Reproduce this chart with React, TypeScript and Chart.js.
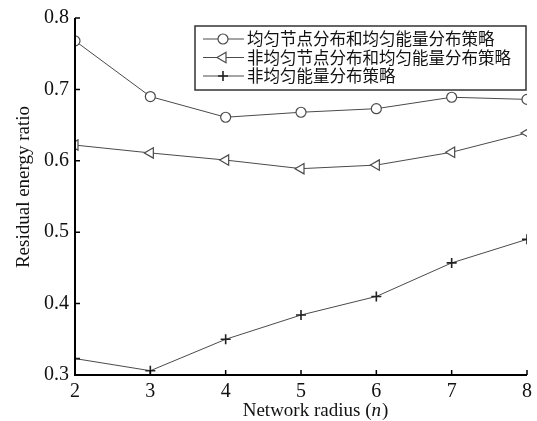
import React, { useEffect, useRef } from "react";
import { Chart, registerables } from "chart.js";

Chart.register(...registerables);

const xValues = [2, 3, 4, 5, 6, 7, 8];
const uniformBoth = [0.768, 0.690, 0.661, 0.668, 0.673, 0.689, 0.686];
const nonUniformBoth = [0.622, 0.611, 0.601, 0.589, 0.594, 0.612, 0.639];
const nonUniformEnergy = [0.323, 0.306, 0.350, 0.384, 0.410, 0.457, 0.490];
const seriesLabels = [
  "均匀节点分布和均匀能量分布策略",
  "非均匀节点分布和均匀能量分布策略",
  "非均匀能量分布策略",
];
const yTicks = [0.3, 0.4, 0.5, 0.6, 0.7, 0.8];
const xTitleMain = "Network radius (";
const xTitleVar = "n";
const xTitleEnd = ")";
const yTitle = "Residual energy ratio";

const LINE = "#4a4a4a";
const SERIF = "'Liberation Serif', 'DejaVu Serif', serif";
const CJK = "'Noto Sans CJK SC', sans-serif";

function drawMarker(ctx: any, style: string, rot: number, x: number, y: number, r: number) {
  ctx.save();
  ctx.strokeStyle = LINE;
  ctx.fillStyle = "#fff";
  ctx.lineWidth = 1.2;
  ctx.translate(x, y);
  ctx.rotate((rot * Math.PI) / 180);
  ctx.beginPath();
  if (style === "circle") {
    ctx.arc(0, 0, r, 0, Math.PI * 2);
    ctx.fill();
    ctx.stroke();
  } else if (style === "triangle") {
    ctx.moveTo(0, -r);
    ctx.lineTo(r * 0.87, r * 0.5);
    ctx.lineTo(-r * 0.87, r * 0.5);
    ctx.closePath();
    ctx.fill();
    ctx.stroke();
  } else {
    ctx.lineWidth = 1.6;
    ctx.strokeStyle = "#222";
    ctx.moveTo(-r, 0);
    ctx.lineTo(r, 0);
    ctx.moveTo(0, -r);
    ctx.lineTo(0, r);
    ctx.stroke();
  }
  ctx.restore();
}

const axisPlugin = {
  id: "customAxes",
  afterDraw(chart: any) {
    const { ctx, chartArea, scales } = chart;
    const xs = scales.x;
    const ys = scales.y;
    ctx.save();
    ctx.strokeStyle = "#000";
    ctx.lineWidth = 2;
    ctx.beginPath();
    ctx.moveTo(chartArea.left, chartArea.top);
    ctx.lineTo(chartArea.left, chartArea.bottom);
    ctx.lineTo(chartArea.right, chartArea.bottom);
    ctx.stroke();
    ctx.lineWidth = 1.5;
    ctx.beginPath();
    for (const v of xValues) {
      const px = xs.getPixelForValue(v);
      ctx.moveTo(px, chartArea.bottom);
      ctx.lineTo(px, chartArea.bottom - 5);
    }
    for (const v of yTicks) {
      const py = ys.getPixelForValue(v);
      ctx.moveTo(chartArea.left, py);
      ctx.lineTo(chartArea.left + 5, py);
    }
    ctx.stroke();

    // axis titles
    ctx.fillStyle = "#111";
    ctx.textBaseline = "middle";
    const f1 = `19px ${SERIF}`;
    const f2 = `italic 19px ${SERIF}`;
    ctx.font = f1;
    const w1 = ctx.measureText(xTitleMain).width;
    const w3 = ctx.measureText(xTitleEnd).width;
    ctx.font = f2;
    const w2 = ctx.measureText(xTitleVar).width;
    const total = w1 + w2 + w3;
    let tx = 315 - total / 2;
    const ty = 411;
    ctx.textAlign = "left";
    ctx.font = f1;
    ctx.fillText(xTitleMain, tx, ty);
    ctx.font = f2;
    ctx.fillText(xTitleVar, tx + w1, ty);
    ctx.font = f1;
    ctx.fillText(xTitleEnd, tx + w1 + w2 + 1, ty);

    ctx.save();
    ctx.translate(24, 187);
    ctx.rotate(-Math.PI / 2);
    ctx.textAlign = "center";
    ctx.font = f1;
    ctx.fillText(yTitle, 0, 0);
    ctx.restore();

    // legend
    const bx = 195, by = 26, bw = 331, bh = 64;
    ctx.fillStyle = "#fff";
    ctx.fillRect(bx, by, bw, bh);
    ctx.strokeStyle = "#333";
    ctx.lineWidth = 1.5;
    ctx.strokeRect(bx, by, bw, bh);
    ctx.font = `16.5px ${CJK}`;
    ctx.textBaseline = "middle";
    ctx.textAlign = "left";
    chart.data.datasets.forEach((ds: any, i: number) => {
      const cy = by + 13 + i * 18.5;
      ctx.strokeStyle = LINE;
      ctx.lineWidth = 1;
      ctx.beginPath();
      ctx.moveTo(bx + 8, cy);
      ctx.lineTo(bx + 49, cy);
      ctx.stroke();
      drawMarker(ctx, ds.pointStyle, ds.pointRotation || 0, bx + 28, cy, ds.pointRadius);
      ctx.fillStyle = "#111";
      ctx.fillText(ds.label, bx + 52, cy);
    });
    ctx.restore();
  },
};

export default function App() {
  const ref = useRef<HTMLCanvasElement>(null);
  useEffect(() => {
    document.body.style.margin = "0";
    const mk = (vals: number[]) => xValues.map((x, i) => ({ x, y: vals[i] }));
    const chart = new Chart(ref.current!, {
      type: "line",
      data: {
        datasets: [
          {
            label: seriesLabels[0],
            data: mk(uniformBoth),
            borderColor: LINE,
            borderWidth: 1,
            pointStyle: "circle",
            pointRadius: 5,
            pointBackgroundColor: "#fff",
            pointBorderColor: LINE,
            pointBorderWidth: 1.2,
          },
          {
            label: seriesLabels[1],
            data: mk(nonUniformBoth),
            borderColor: LINE,
            borderWidth: 1,
            pointStyle: "triangle",
            pointRotation: 270,
            pointRadius: 6,
            pointBackgroundColor: "#fff",
            pointBorderColor: LINE,
            pointBorderWidth: 1.2,
          },
          {
            label: seriesLabels[2],
            data: mk(nonUniformEnergy),
            borderColor: LINE,
            borderWidth: 1,
            pointStyle: "cross",
            pointRadius: 5,
            pointBorderColor: "#222",
            pointBorderWidth: 1.6,
          },
        ] as any,
      },
      options: {
        animation: false,
        responsive: false,
        layout: { padding: { top: 10, right: 7, left: 0, bottom: 0 } },
        plugins: { legend: { display: false }, tooltip: { enabled: false } },
        scales: {
          x: {
            type: "linear",
            min: 2,
            max: 8,
            border: { display: false },
            grid: { display: false, drawTicks: false },
            ticks: {
              stepSize: 1,
              color: "#111",
              padding: 5,
              font: { family: SERIF, size: 20 },
            },
            afterFit: (s: any) => { s.height = 46; },
          },
          y: {
            min: 0.3,
            max: 0.8,
            border: { display: false },
            grid: { display: false, drawTicks: false },
            afterBuildTicks: (s: any) => { s.ticks = yTicks.map((v) => ({ value: v })); },
            ticks: {
              color: "#111",
              padding: 6,
              font: { family: SERIF, size: 20 },
              callback: (v: any) => Number(v).toFixed(1),
            },
            afterFit: (s: any) => { s.width = 75; },
          },
        },
      } as any,
      plugins: [axisPlugin],
    });
    return () => chart.destroy();
  }, []);
  return (
    <canvas
      ref={ref}
      width={537}
      height={421}
      style={{ display: "block", width: 537, height: 421, background: "#fff" }}
    />
  );
}
